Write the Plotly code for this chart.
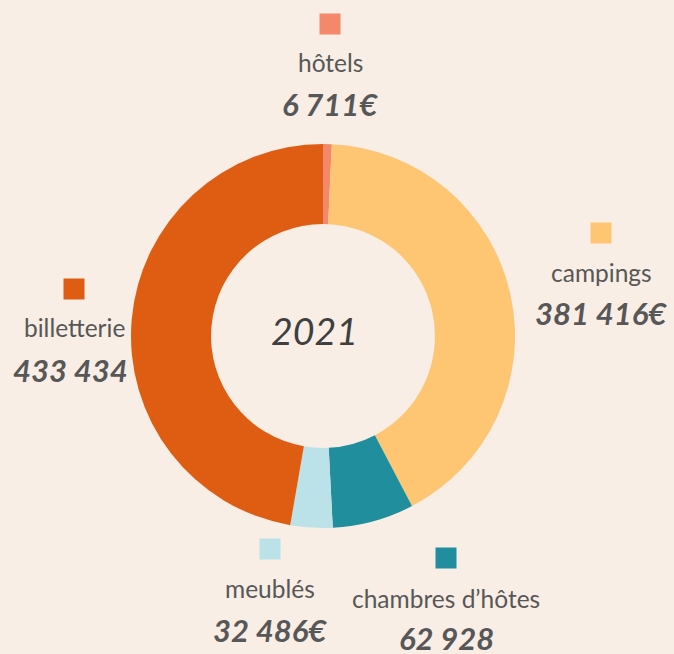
import plotly.graph_objects as go

# Data
categories = ["hôtels", "campings", "chambres d’hôtes", "meublés", "billetterie"]
values = [6711, 381416, 62928, 32486, 433434]
suffixes = ["€", "€", "", "€", ""]
colors = ["#F4886B", "#FEC673", "#218E9D", "#BBE2E8", "#DF5D13"]
center_label = "2021"

W, H = 674, 654
BG = "#F8EEE5"
TXT = "#575757"

def fmt(v):
    return f"{v:,}".replace(",", " ")

fig = go.Figure()
fig.add_trace(go.Pie(
    labels=categories,
    values=values,
    marker=dict(colors=colors, line=dict(width=0)),
    hole=0.583,
    sort=False,
    direction="clockwise",
    rotation=0,
    textinfo="none",
    showlegend=False,
    domain=dict(x=[131 / W, 515 / W], y=[(H - 528) / H, (H - 144) / H]),
))

# label layout (pixel positions): square center, label center, value center
layout_pos = {
    "hôtels": (330, 24, 330, 62, 330, 104),
    "campings": (601, 233, 601, 272, 601, 313),
    "chambres d’hôtes": (446, 558, 446, 598, 446, 638),
    "meublés": (270, 549, 270, 588, 270, 630),
    "billetterie": (74, 289, 74, 328, 70, 370),
}

px = lambda x: x / W
py = lambda y: 1 - y / H

shapes = []
annotations = []
for cat, val, suf, col in zip(categories, values, suffixes, colors):
    sx, sy, lx, ly, vx, vy = layout_pos[cat]
    shapes.append(dict(type="rect", xref="paper", yref="paper",
                       x0=px(sx - 10.5), x1=px(sx + 10.5),
                       y0=py(sy + 10.5), y1=py(sy - 10.5),
                       fillcolor=col, line=dict(width=0)))
    annotations.append(dict(text=cat, xref="paper", yref="paper",
                            x=px(lx), y=py(ly), xanchor="center", yanchor="middle",
                            showarrow=False,
                            font=dict(family="Lato", size=24.5, color=TXT)))
    annotations.append(dict(text=f"<b><i>{fmt(val)}{suf}</i></b>", xref="paper", yref="paper",
                            x=px(vx), y=py(vy), xanchor="center", yanchor="middle",
                            showarrow=False,
                            font=dict(family="Lato", size=31, color=TXT)))

annotations.append(dict(text=f"<i>{center_label}</i>", xref="paper", yref="paper",
                        x=px(314), y=py(330), xanchor="center", yanchor="middle",
                        showarrow=False,
                        font=dict(family="Lato", size=37.5, color="#3F3F3F")))

fig.update_layout(
    width=W, height=H,
    margin=dict(l=0, r=0, t=0, b=0),
    paper_bgcolor=BG, plot_bgcolor=BG,
    shapes=shapes, annotations=annotations,
)

fig.write_html("out.html",
               config={"displayModeBar": False},
               post_script="document.body.style.margin='0';document.body.style.overflow='hidden';")
